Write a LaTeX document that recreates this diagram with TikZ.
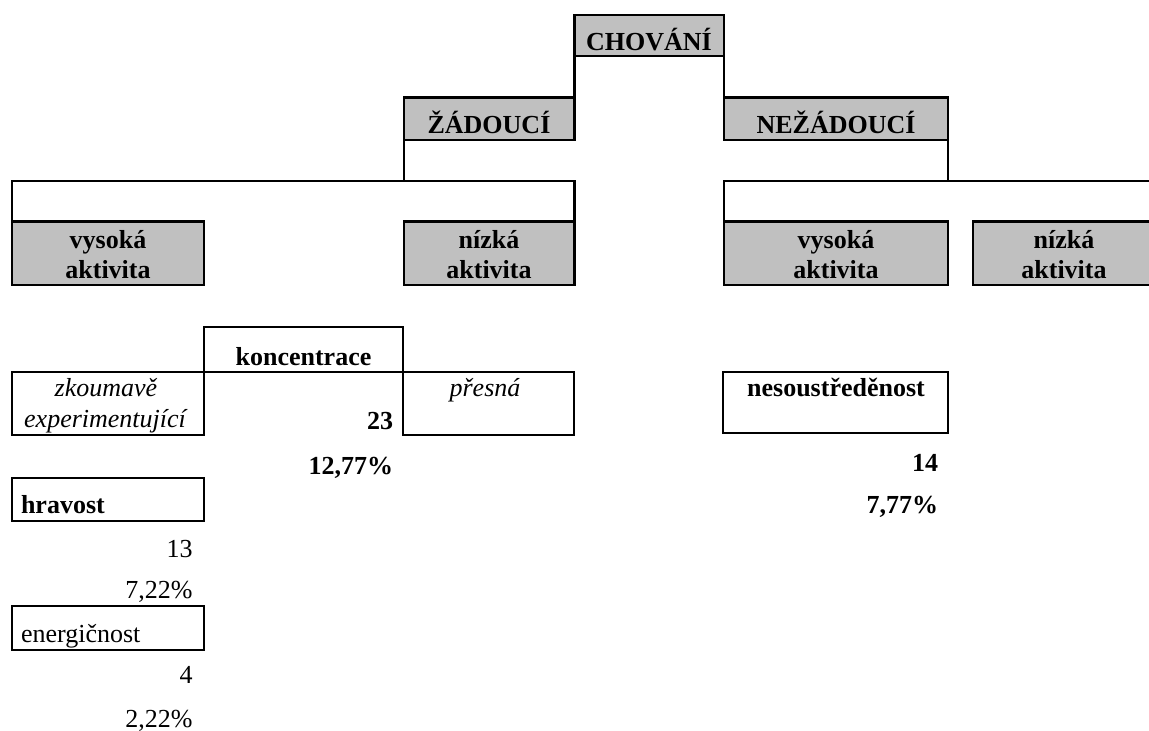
\documentclass[tikz,border=0pt]{standalone}
\usepackage{fontspec}
\setmainfont{Liberation Serif}
\definecolor{cellgray}{HTML}{C0C0C0}
\begin{document}
\begin{tikzpicture}[x=1pt,y=-1pt,
  every node/.style={font=\fontsize{26}{30}\selectfont, inner sep=0pt, outer sep=0pt},
  graybox/.style={draw=black, line width=2.2pt, fill=cellgray, anchor=north west},
  whitebox/.style={draw=black, line width=2.2pt, anchor=north west},
  conn/.style={draw=black, line width=2.2pt},
  txt/.style={anchor=base},
  txtr/.style={anchor=base east},
  txtl/.style={anchor=base west}]
\useasboundingbox (0,0) rectangle (1149,731);
\clip (0,0) rectangle (1149,731);
% ---- level 1
\node[graybox, minimum width=149.5pt, minimum height=41pt] (chov) at (574.5,15) {};
% ---- level 2
\node[graybox, minimum width=170.5pt, minimum height=42.5pt] (zad) at (404,97.5) {};
\node[graybox, minimum width=224pt, minimum height=42.5pt] (nezad) at (724,97.5) {};
% ---- level 3
\node[graybox, minimum width=192pt, minimum height=63.5pt] (lva) at (12,221.5) {};
\node[graybox, minimum width=170.5pt, minimum height=63.5pt] (lna) at (404,221.5) {};
\node[graybox, minimum width=224pt, minimum height=63.5pt] (rva) at (724,221.5) {};
\node[graybox, minimum width=187pt, minimum height=63.5pt] (rna) at (973,221.5) {};
% ---- connectors
\coordinate (zbar) at (404,181);
\coordinate (nbar) at (948,181);
\draw[conn] (chov.south west) -- (zad.north east);
\draw[conn] (chov.south east) -- (nezad.north west);
\draw[conn] (zad.south west) -- (zbar);
\draw[conn] (nezad.south east) -- (nbar);
\draw[conn] (lva.north west) |- (zbar) -| (lna.north east);
\draw[conn] (rva.north west) |- (nbar) -| (rna.north east);
% ---- row boxes
\node[whitebox, minimum width=199pt, minimum height=44.5pt] (konc) at (204,327.3) {};
\node[whitebox, minimum width=192pt, minimum height=63.3pt] (zk) at (12,371.7) {};
\node[whitebox, minimum width=170.7pt, minimum height=63.3pt] (pr) at (403.3,371.7) {};
\node[whitebox, minimum width=225pt, minimum height=61.6pt] (nes) at (723.3,371.7) {};
\node[whitebox, minimum width=192pt, minimum height=42.7pt] (hrav) at (12,478.3) {};
\node[whitebox, minimum width=192pt, minimum height=44.3pt] (ener) at (12,605.7) {};
% ---- texts
\node[txt] (tchov) at (649,50) {\textbf{CHOVÁNÍ}};
\node[txt] (tzad) at (489,133.3) {\textbf{ŽÁDOUCÍ}};
\node[txt] (tnezad) at (836,133.3) {\textbf{NEŽÁDOUCÍ}};
\node[txt] (tlva1) at (108,248.3) {\textbf{vysoká}};
\node[txt] (tlva2) at (108,278.3) {\textbf{aktivita}};
\node[txt] (tlna1) at (489,248.3) {\textbf{nízká}};
\node[txt] (tlna2) at (489,278.3) {\textbf{aktivita}};
\node[txt] (trva1) at (836,248.3) {\textbf{vysoká}};
\node[txt] (trva2) at (836,278.3) {\textbf{aktivita}};
\node[txt] (trna1) at (1064,248.3) {\textbf{nízká}};
\node[txt] (trna2) at (1064,278.3) {\textbf{aktivita}};
\node[txt] (tkonc) at (303.5,365) {\textbf{koncentrace}};
\node[txt] (tzk1) at (106,396) {\textit{zkoumavě}};
\node[txt] (tzk2) at (106,427) {\textit{experimentující}};
\node[txtr] (t23) at (393,429) {\textbf{23}};
\node[txt] (tpr) at (485,396) {\textit{přesná}};
\node[txtr] (t1277) at (393,474) {\textbf{12,77\%}};
\node[txt] (tnes) at (836,396) {\textbf{nesoustředěnost}};
\node[txtr] (t14) at (938,471) {\textbf{14}};
\node[txtr] (t777) at (938,513) {\textbf{7,77\%}};
\node[txtl] (thrav) at (21,513) {\textbf{hravost}};
\node[txtr] (t13) at (192.5,557) {13};
\node[txtr] (t722) at (192.5,598) {7,22\%};
\node[txtl] (tener) at (21,642) {energičnost};
\node[txtr] (t4) at (192.5,683) {4};
\node[txtr] (t222) at (192.5,727) {2,22\%};
\end{tikzpicture}
\end{document}
